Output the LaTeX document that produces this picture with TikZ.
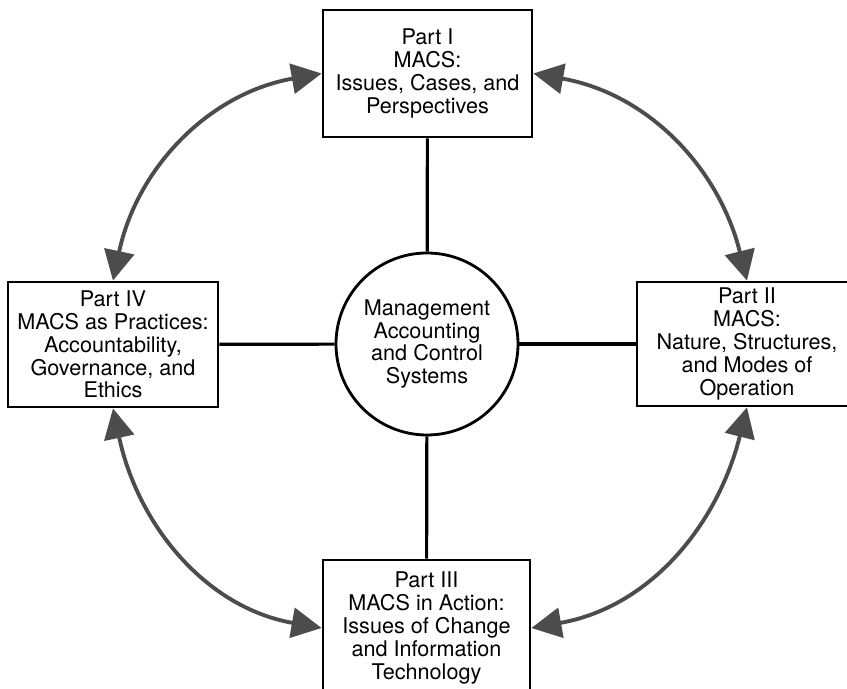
\documentclass[tikz,border=0pt]{standalone}
\usepackage{fontspec}
\setmainfont{TeX Gyre Heros}
\usepackage{xcolor}
\usepackage{tikz}
\usetikzlibrary{arrows.meta}

\begin{document}
\begin{tikzpicture}[font=\fontsize{12.3}{13}\selectfont,
		partbox/.style={draw, line width=1.6pt, align=center, inner sep=2pt},
		spoke/.style={line width=1.8pt},
		twoway/.style={line width=2.2pt, draw=black!70,
			{Triangle[length=0.6cm,width=0.6cm,fill=black!70]}-{Triangle[length=0.6cm,width=0.6cm,fill=black!70]}}]
		\useasboundingbox (0,0) rectangle (16.94,-13.78);
		% centre
		\node[draw, circle, line width=1.6pt, minimum size=3.64cm, align=center, inner sep=0pt]
		(hub) at (8.54,-6.88) {Management\\Accounting\\and Control\\Systems};
		% the four parts
		\node[partbox, minimum width=4.18cm, minimum height=2.54cm] (partI) at (8.55,-1.47)
		{Part I\\MACS:\\Issues, Cases, and\\Perspectives};
		\node[partbox, minimum width=4.4cm, minimum height=2.48cm] (partII) at (14.94,-6.88)
		{Part II\\MACS:\\Nature, Structures,\\and Modes of\\Operation};
		\node[partbox, minimum width=4.14cm, minimum height=2.72cm] (partIII) at (8.53,-12.56)
		{Part III\\MACS in Action:\\Issues of Change\\and Information\\Technology};
		\node[partbox, minimum width=4.2cm, minimum height=2.5cm] (partIV) at (2.26,-6.89)
		{Part IV\\MACS as Practices:\\Accountability,\\Governance, and\\Ethics};
		% spokes
		\draw[spoke] (hub) -- (partI);
		\draw[spoke] (hub) -- (partII);
		\draw[spoke] (hub) -- (partIII);
		\draw[spoke] (hub) -- (partIV);
		% arcs between neighbouring parts
		\draw[twoway] (partIV.north) to[out=78, in=190] (partI.west);
		\draw[twoway] (partI.east) to[out=-10, in=104] (partII.north);
		\draw[twoway] (partII.south) to[out=-104, in=10] (partIII.east);
		\draw[twoway] (partIII.west) to[out=170, in=-78] (partIV.south);
	\end{tikzpicture}
\end{document}
